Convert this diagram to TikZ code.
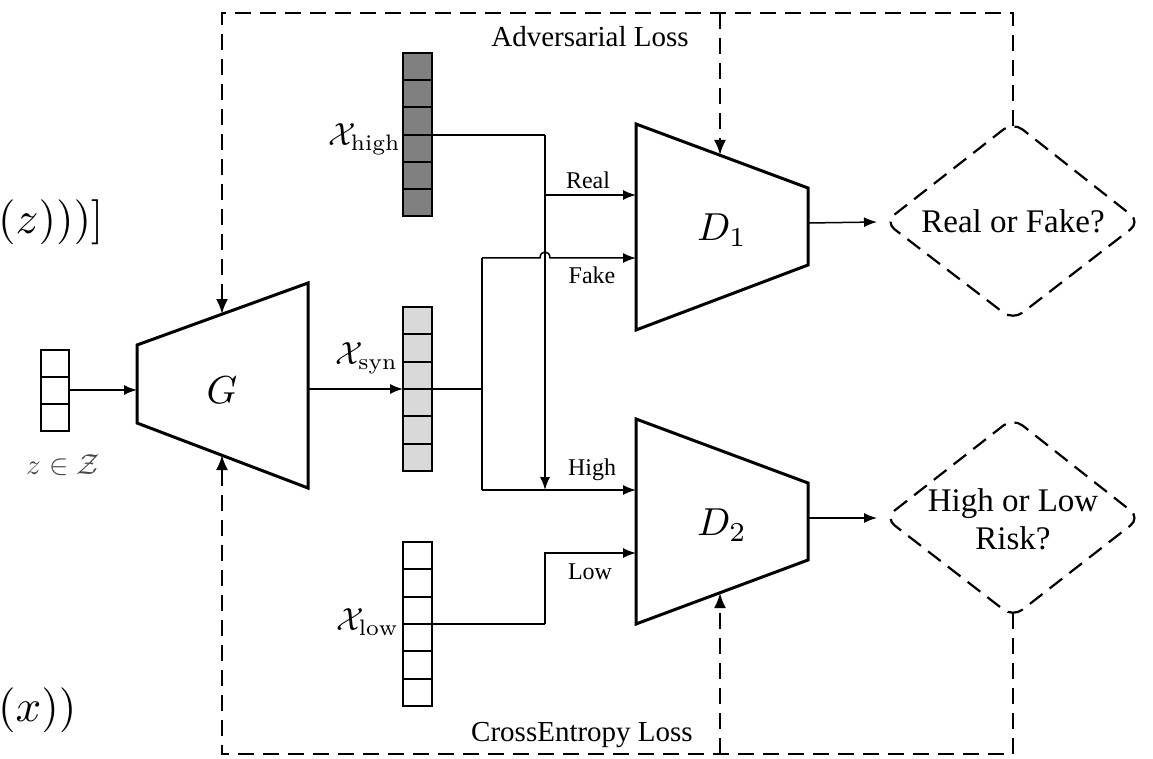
\documentclass[tikz,border=0pt]{standalone}
\usepackage{graphicx}
\usepackage{fontspec}
\newfontfamily\tnr{Liberation Serif}
\usetikzlibrary{arrows.meta}
\definecolor{darkcell}{RGB}{128,128,128}
\definecolor{lightcell}{RGB}{217,217,217}
\definecolor{zgray}{RGB}{70,70,70}
\newcommand{\mbig}[2]{\scalebox{#1}{$#2$}}
\begin{document}
\begin{tikzpicture}[x=1pt,y=-1pt,
  conn/.style={line width=1.5pt,-{Latex[length=13pt,width=10pt]}},
  plain/.style={line width=1.5pt},
  thickconn/.style={line width=2.2pt},
  fb/.style={line width=2.2pt,dash pattern=on 16pt off 9pt},
  fbarrow/.style={fb,-{Latex[length=15pt,width=12pt]}},
  block/.style={line width=3pt,line join=miter},
  cell/.style={line width=2pt},
  qbox/.style={line width=2.2pt,dash pattern=on 16pt off 9pt,rounded corners=12pt},
  lbl/.style={font=\tnr\fontsize{24}{28}\selectfont,inner sep=0pt},
  loss/.style={font=\tnr\fontsize{29}{33}\selectfont,inner sep=0pt},
  qtext/.style={font=\tnr\fontsize{33}{38}\selectfont,inner sep=0pt,align=center},
  mlbl/.style={inner sep=0pt},
  frag/.style={inner sep=0pt,anchor=west}]
\useasboundingbox (0,0) rectangle (1153,759);

% cut-off formula fragments
\node[frag] (f1) at (-2,222) {\mbig{4.5}{(z)))]}};
\node[frag] (f2) at (-2,710) {\mbig{4.5}{(x))}};

% z vector
\draw[cell] (41,350) rectangle (69,431);
\foreach \i in {1,2} \draw[cell] (41,{350+27*\i}) -- (69,{350+27*\i});
\coordinate (zout) at (69,390);
\node[mlbl,text=zgray] (zlbl) at (63,465) {\mbig{2.9}{z\in\mathcal{Z}}};

% G
\draw[block] (137,345) -- (308,283) -- (308,488) -- (137,423) -- cycle;
\node[mlbl] (G) at (222,390) {\mbig{3.9}{G}};
\coordinate (Gin) at (137,390);
\coordinate (Gout) at (308,389);
\coordinate (Gt) at (222,314);
\coordinate (Gb) at (222,455);

% D1
\draw[block] (636,124) -- (808,188) -- (808,265) -- (636,330) -- cycle;
\node[mlbl] (D1) at (722,230) {\mbig{3.9}{D_1}};
\coordinate (D1t) at (720,155);
\coordinate (D1out) at (808,223);
\coordinate (D1real) at (636,195);
\coordinate (D1fake) at (636,258);

% D2
\draw[block] (636,419) -- (808,483) -- (808,560) -- (636,624) -- cycle;
\node[mlbl] (D2) at (722,525) {\mbig{3.9}{D_2}};
\coordinate (D2b) at (720,593);
\coordinate (D2out) at (808,518);
\coordinate (D2high) at (636,490);
\coordinate (D2low) at (636,553);

% x_high vector
\draw[cell,fill=darkcell] (403,53) rectangle (432,216);
\foreach \i in {1,...,5} \draw[cell] (403,{53+27.17*\i}) -- (432,{53+27.17*\i});
\node[mlbl,anchor=east] (xh) at (401,139) {\mbig{3.2}{\mathcal{X}_{\mathrm{high}}}};
\coordinate (xhout) at (432,135);

% x_syn vector
\draw[cell,fill=lightcell] (403,307) rectangle (432,471);
\foreach \i in {1,...,5} \draw[cell] (403,{307+27.33*\i}) -- (432,{307+27.33*\i});
\node[mlbl,anchor=east] (xs) at (398,358) {\mbig{3.2}{\mathcal{X}_{\mathrm{syn}}}};
\coordinate (xsin) at (403,389);

% x_low vector
\draw[cell] (403,542) rectangle (432,706);
\foreach \i in {1,...,5} \draw[cell] (403,{542+27.33*\i}) -- (432,{542+27.33*\i});
\node[mlbl,anchor=east] (xl) at (399,622) {\mbig{3.2}{\mathcal{X}_{\mathrm{low}}}};
\coordinate (xlout) at (432,624);

% junction points
\coordinate (jh) at (545,135);
\coordinate (jreal) at (545,195);
\coordinate (jhigh) at (545,490);
\coordinate (sj) at (482,389);
\coordinate (sfake) at (482,258);
\coordinate (shigh) at (482,490);
\coordinate (lj) at (545,624);
\coordinate (ltop) at (545,553);

% connectors
\draw[conn] (zout) -- (Gin);
\draw[conn] (Gout) -- (xsin);
\draw[thickconn] (xsin) -- (sj);
\draw[plain] (xhout) -- (jh);
\draw[conn] (jh) -- (jhigh);
\draw[conn] (jreal) -- (D1real);
\draw[plain] (sfake) -- (shigh);
\draw[plain] (sj) -- (sfake);
\draw[conn] (sfake) -- (540,258) .. controls (540,250) and (550,250) .. (550,258) -- (D1fake);
\draw[conn] (shigh) -- (D2high);
\draw[plain] (xlout) -- (lj);
\draw[conn] (lj) -- (ltop) -- (D2low);

\node[lbl] (lreal) at (588,180) {Real};
\node[lbl] (lfake) at (592,275) {Fake};
\node[lbl] (lhigh) at (592,470) {High};
\node[lbl] (llow) at (590,572) {Low};

% decision diamonds
\draw[qbox] (885,222) -- (1013,122) -- (1140,222) -- (1013,320) -- cycle;
\node[qtext] (q1) at (1013,221) {Real or Fake?};
\coordinate (q1w) at (877,222);
\coordinate (q1n) at (1013,126);
\draw[qbox] (885,518) -- (1013,418) -- (1140,518) -- (1013,617) -- cycle;
\node[qtext] (q2) at (1013,519) {High or Low\\Risk?};
\coordinate (q2w) at (877,518);
\coordinate (q2s) at (1013,613);

\draw[conn] (D1out) -- (q1w);
\draw[conn] (D2out) -- (q2w);

% feedback loops
\coordinate (tr) at (1013,13);
\coordinate (tm) at (720,13);
\coordinate (tl) at (222,13);
\coordinate (br) at (1013,754);
\coordinate (bm) at (720,754);
\coordinate (bl) at (222,754);
\draw[fbarrow] (q1n) -- (tr) -- (tl) -- (Gt);
\draw[fbarrow] (tm) -- (D1t);
\draw[fbarrow] (q2s) -- (br) -- (bl) -- (Gb);
\draw[fbarrow] (bm) -- (D2b);

\node[loss] (adv) at (590,37) {Adversarial Loss};
\node[loss] (ce) at (582,735) {CrossEntropy Loss};
\end{tikzpicture}
\end{document}
